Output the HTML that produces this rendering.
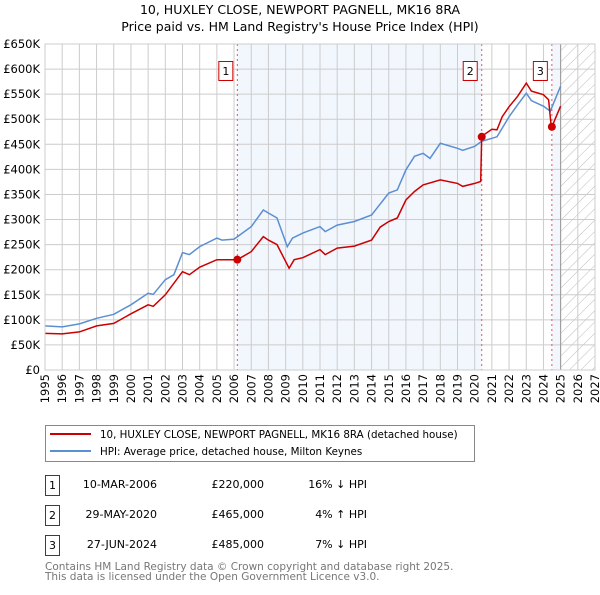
<!DOCTYPE html>
<html><head><meta charset="utf-8"><style>
body{margin:0;background:#fff;}
svg text{font-family:"DejaVu Sans","Liberation Sans",sans-serif;}
</style></head><body>
<svg id="chart" width="600" height="590" xmlns="http://www.w3.org/2000/svg">
<defs><pattern id="hatch" patternUnits="userSpaceOnUse" width="8" height="8" patternTransform="rotate(45)"><line x1="0" y1="0" x2="0" y2="8" stroke="#bbb" stroke-width="1"/></pattern></defs>
<text x="300" y="14" text-anchor="middle" font-size="12.5">10, HUXLEY CLOSE, NEWPORT PAGNELL, MK16 8RA</text>
<text x="300" y="31" text-anchor="middle" font-size="12.5">Price paid vs. HM Land Registry's House Price Index (HPI)</text>
<g id="plot"></g>
<g>
<rect x="45.5" y="425.5" width="429" height="36" fill="#fff" stroke="#888"/>
<line x1="50" y1="434" x2="91" y2="434" stroke="#cc0000" stroke-width="2"/>
<text x="100" y="438" font-size="10.3">10, HUXLEY CLOSE, NEWPORT PAGNELL, MK16 8RA (detached house)</text>
<line x1="50" y1="451" x2="91" y2="451" stroke="#5b8fd4" stroke-width="2"/>
<text x="100" y="455" font-size="10.3">HPI: Average price, detached house, Milton Keynes</text>
</g>
<g font-size="11">
<rect x="45.5" y="475.5" width="14" height="20" fill="#fff" stroke="#cc0000"/><text x="52.5" y="489" text-anchor="middle">1</text>
<text x="157" y="488" text-anchor="end">10-MAR-2006</text><text x="264" y="488" text-anchor="end">£220,000</text><text x="367" y="488" text-anchor="end">16% ↓ HPI</text>
<rect x="45.5" y="505.5" width="14" height="20" fill="#fff" stroke="#cc0000"/><text x="52.5" y="519" text-anchor="middle">2</text>
<text x="157" y="518" text-anchor="end">29-MAY-2020</text><text x="264" y="518" text-anchor="end">£465,000</text><text x="367" y="518" text-anchor="end">4% ↑ HPI</text>
<rect x="45.5" y="535.5" width="14" height="20" fill="#fff" stroke="#cc0000"/><text x="52.5" y="549" text-anchor="middle">3</text>
<text x="157" y="548" text-anchor="end">27-JUN-2024</text><text x="264" y="548" text-anchor="end">£485,000</text><text x="367" y="548" text-anchor="end">7% ↓ HPI</text>
</g>
<text x="45" y="570" font-size="10.5" fill="#777">Contains HM Land Registry data © Crown copyright and database right 2025.</text>
<text x="45" y="580" font-size="10.5" fill="#777">This data is licensed under the Open Government Licence v3.0.</text>
</svg>
<script>
const hpiYears=[1995,1996,1997,1998,1999,2000,2001,2001.3,2002,2002.5,2003,2003.4,2004,2005,2005.3,2006,2007,2007.7,2008,2008.5,2009.1,2009.4,2010,2011,2011.3,2012,2013,2014,2015,2015.5,2016,2016.5,2017,2017.4,2018,2019,2019.3,2020,2020.4,2021,2021.3,2022,2022.5,2023,2023.3,2024,2024.4,2025];
const hpiValues=[88,86,92,103,111,130,153,151,180,190,234,230,246,263,259,261,286,319,313,303,246,263,273,286,276,289,296,309,353,359,399,426,432,422,452,442,438,446,456,462,465,505,529,552,537,526,516,566];
const paidYears=[1995,1996,1997,1998,1999,2000,2001,2001.3,2002,2003,2003.4,2004,2005,2006.19,2007,2007.7,2008,2008.5,2009.2,2009.5,2010,2011,2011.3,2012,2013,2014,2014.5,2015,2015.5,2016,2016.5,2017,2018,2019,2019.3,2020,2020.35,2020.41,2021,2021.3,2021.6,2022,2022.5,2023,2023.3,2024,2024.3,2024.45,2024.49,2024.7,2025];
const paidValues=[73,72,76,88,93,112,130,127,150,196,190,205,220,220,236,266,259,250,203,220,224,240,230,243,247,259,285,296,303,339,356,369,379,372,366,372,376,466,480,479,505,525,546,572,556,549,539,486,485,502,526];
const saleYears=[2006.19,2020.41,2024.49];
const saleValues=[220,465,485];
const saleLabels=["1","2","3"];
const yTicks=[0,50,100,150,200,250,300,350,400,450,500,550,600,650];
const xTicks=[];for(let y=1995;y<=2027;y++)xTicks.push(y);
const X0=45,X1=595,Y0=370,Y1=44;
const xs=y=>X0+(y-1995)/(2027-1995)*(X1-X0);
const ys=v=>Y0-v/650*(Y0-Y1);
const NS="http://www.w3.org/2000/svg";
const g=document.getElementById('plot');
function mk(t,a){const e=document.createElementNS(NS,t);for(const k in a)e.setAttribute(k,a[k]);g.appendChild(e);return e;}
let e;
e=mk('rect',{x:xs(saleYears[0]),y:Y1,width:xs(saleYears[1])-xs(saleYears[0]),height:Y0-Y1,fill:'#f2f6fd'});


e=mk('rect',{x:xs(saleYears[2]),y:Y1,width:xs(2025)-xs(saleYears[2]),height:Y0-Y1,fill:'#f2f6fd'});


e=mk('rect',{x:xs(2025),y:Y1,width:xs(2027)-xs(2025),height:Y0-Y1,fill:'url(#hatch)'});


xTicks.forEach(t=>{
e=mk('line',{x1:xs(t),x2:xs(t),y1:Y1,y2:Y0,stroke:'#ccc','stroke-width':1});


e=mk('text',{x:0,y:0,'font-size':11.5,'text-anchor':'end',transform:`translate(${xs(t)+4},${Y0+4}) rotate(-90)`});
e.textContent=t;


});
yTicks.forEach(t=>{
e=mk('line',{x1:X0,x2:X1,y1:ys(t),y2:ys(t),stroke:'#ccc','stroke-width':1});


e=mk('text',{x:40,y:ys(t)+4,'font-size':11.5,'text-anchor':'end'});
e.textContent=t===0?'£0':'£'+t+'K';


});
e=mk('line',{x1:xs(2025),x2:xs(2025),y1:Y1,y2:Y0,stroke:'#999','stroke-width':1});


saleYears.forEach((s,i)=>{
e=mk('line',{x1:xs(s),x2:xs(s),y1:Y1,y2:Y0,stroke:'#ee5555','stroke-width':1,'stroke-dasharray':'2,3'});


});
function pts(a,b){return a.map((y,i)=>xs(y).toFixed(1)+','+ys(b[i]).toFixed(1)).join(' ');}
e=mk('polyline',{points:pts(hpiYears,hpiValues),fill:'none',stroke:'#5b8fd4','stroke-width':1.5});


e=mk('polyline',{points:pts(paidYears,paidValues),fill:'none',stroke:'#cc0000','stroke-width':1.5});


saleYears.forEach((s,i)=>{
e=mk('circle',{cx:xs(s),cy:ys(saleValues[i]),r:4,fill:'#cc0000'});


e=mk('rect',{x:xs(s)-18.5,y:61.5,width:14,height:19,fill:'#fff',stroke:'#cc0000'});


e=mk('text',{x:xs(s)-11.5,y:75,'font-size':11,'text-anchor':'middle'});
e.textContent=saleLabels[i];


});
e=mk('rect',{x:X0,y:Y1,width:X1-X0,height:Y0-Y1,fill:'none',stroke:'#ccc'});


</script>
</body></html>
